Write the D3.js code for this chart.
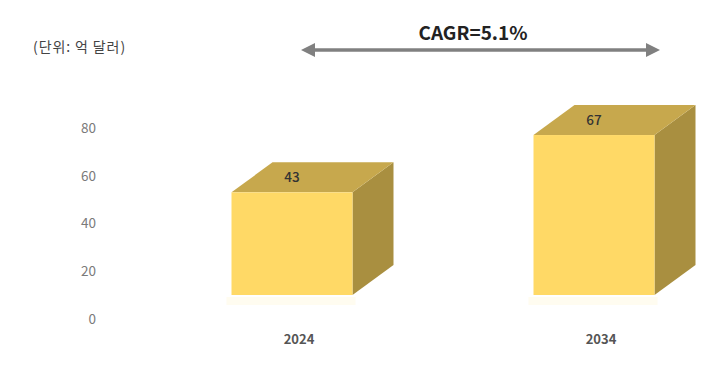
<!DOCTYPE html>
<html><head><meta charset="utf-8">
<script src="https://cdn.jsdelivr.net/npm/d3@7"></script>
<style>body{margin:0;background:#fff;}svg{display:block;}</style>
</head><body>
<script>
const categories = ["2024", "2034"];
const values = [43, 67];
const yTicks = [0, 20, 40, 60, 80];
const unitLabel = "(단위: 억 달러)";
const cagrLabel = "CAGR=5.1%";

const W = 709, H = 382;
const svg = d3.select("body").append("svg").attr("width", W).attr("height", H);
const font = "'Noto Sans CJK KR','Noto Sans',sans-serif";

const y = d3.scaleLinear().domain([0, 80]).range([319, 128]);
const x = d3.scalePoint().domain(categories).range([292, 594]);
const barW = 121, dx = 41, dy = -30, lift = 24;

// y axis labels
const yAxis = d3.axisLeft(y).tickValues(yTicks).tickSize(0).tickPadding(0);
const ga = svg.append("g").attr("transform", "translate(96,0)").call(yAxis);
ga.select(".domain").remove();
ga.selectAll("text").attr("font-family", font).attr("font-size", 13.5).attr("fill", "#7a7a7a");

// floor shadow
categories.forEach((c, i) => {
  svg.append("rect").attr("x", x(c) - barW / 2 - 5).attr("y", y(0) - lift + 2)
    .attr("width", barW + 8).attr("height", 8).attr("fill", "#fffcf0");
});

// bars
const g = svg.append("g");
categories.forEach((c, i) => {
  const v = values[i];
  const x0 = x(c) - barW / 2, x1 = x(c) + barW / 2;
  const yt = y(v) - lift, yb = y(0) - lift;
  g.append("path").attr("d", `M${x1},${yt}L${x1 + dx},${yt + dy}L${x1 + dx},${yb + dy}L${x1},${yb}Z`).attr("fill", "#a98f40");
  g.append("path").attr("d", `M${x0},${yt}L${x0 + dx},${yt + dy}L${x1 + dx},${yt + dy}L${x1},${yt}Z`).attr("fill", "#c7a84d");
  g.append("rect").attr("x", x0).attr("y", yt).attr("width", barW).attr("height", yb - yt).attr("fill", "#ffd966");
  g.append("text").attr("x", x(c)).attr("y", yt + dy / 2 + 5).attr("text-anchor", "middle")
    .attr("font-family", font).attr("font-size", 13.5).attr("font-weight", 500).attr("fill", "#333").text(v);
  svg.append("text").attr("x", x(c) + 7).attr("y", 344).attr("text-anchor", "middle")
    .attr("font-family", font).attr("font-size", 13).attr("font-weight", "bold").attr("fill", "#555").text(c);
});

// unit label
svg.append("text").attr("x", 33).attr("y", 52).attr("font-family", font).attr("font-size", 14)
  .attr("letter-spacing", 0.9).attr("fill", "#444").text(unitLabel);

// CAGR arrow
const defs = svg.append("defs");
["s", "e"].forEach(k => {
  defs.append("marker").attr("id", "ah" + k).attr("viewBox", "0 0 10 10").attr("refX", 5).attr("refY", 5)
    .attr("markerWidth", 4).attr("markerHeight", 4).attr("orient", "auto-start-reverse")
    .append("path").attr("d", "M0,0L10,5L0,10Z").attr("fill", "#808080");
});
svg.append("line").attr("x1", 308).attr("x2", 653).attr("y1", 50).attr("y2", 50)
  .attr("stroke", "#808080").attr("stroke-width", 3.5)
  .attr("marker-start", "url(#ahs)").attr("marker-end", "url(#ahe)");
svg.append("text").attr("x", 473).attr("y", 40).attr("text-anchor", "middle").attr("font-family", font)
  .attr("font-size", 19).attr("font-weight", "bold").attr("fill", "#222").text(cagrLabel);
</script>
</body></html>
